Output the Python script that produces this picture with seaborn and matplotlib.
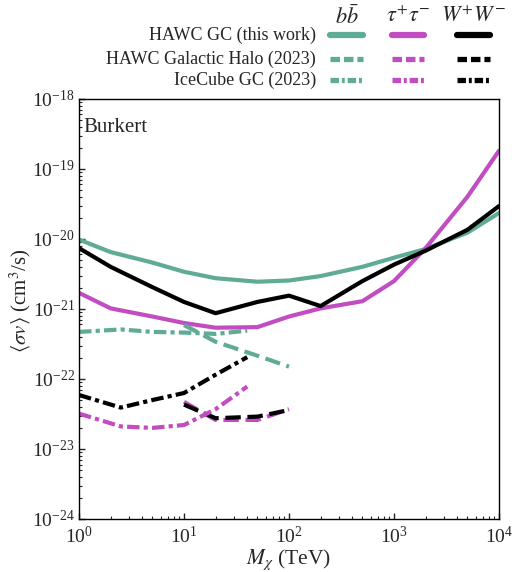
import numpy as np
import pandas as pd
import matplotlib.pyplot as plt
import seaborn as sns
from matplotlib.lines import Line2D

# HAWC GC (this work), Burkert profile
mass = [1, 2, 5, 10, 20, 50, 100, 200, 500, 1000, 2000, 5000, 10000]
bb_gc = [9.8e-21, 6.5e-21, 4.6e-21, 3.4e-21, 2.75e-21, 2.45e-21, 2.55e-21,
         2.95e-21, 4.0e-21, 5.4e-21, 7.2e-21, 1.23e-20, 2.35e-20]
tt_gc = [1.7e-21, 1.02e-21, 7.8e-22, 6.3e-22, 5.4e-22, 5.5e-22, 7.8e-22,
         1.02e-21, 1.29e-21, 2.5e-21, 7.4e-21, 4.0e-20, 1.82e-19]
ww_gc = [7.4e-21, 4.0e-21, 2.05e-21, 1.26e-21, 8.7e-22, 1.26e-21, 1.55e-21,
         1.1e-21, 2.5e-21, 4.3e-21, 6.8e-21, 1.35e-20, 2.95e-20]

# HAWC Galactic Halo (2023)
mass_halo = [10, 20, 50, 100]
bb_halo = [5.9e-22, 3.4e-22, 2.15e-22, 1.5e-22]
tt_halo = [4.7e-23, 2.6e-23, 2.6e-23, 3.7e-23]
ww_halo = [4.3e-23, 2.75e-23, 2.9e-23, 3.6e-23]

# IceCube GC (2023)
mass_ic = [1, 2.5, 5, 10, 20, 40]
bb_ic = [4.7e-22, 5.1e-22, 4.7e-22, 4.6e-22, 4.4e-22, 4.9e-22]
tt_ic = [3.2e-23, 2.1e-23, 2.0e-23, 2.2e-23, 3.7e-23, 7.8e-23]
ww_ic = [5.9e-23, 3.9e-23, 5.0e-23, 6.3e-23, 1.15e-22, 2.05e-22]

channels = [r'$b\bar{b}$', r'$\tau^{+}\tau^{-}$', r'$W^{+}W^{-}$']
rows = ['HAWC GC (this work)', 'HAWC Galactic Halo (2023)', 'IceCube GC (2023)']
colors = ['#5fab96', '#c24cc1', '#000000']
dashdot = (0, (3, 1, 1, 1))
styles = ['-', '--', dashdot]
# shorter patterns for the small legend handles
legend_styles = ['-', (0, (1.8, 0.75)), (0, (1.6, 0.55, 0.55, 0.55))]

sns.set_theme(style='ticks')
plt.rcParams['font.family'] = ['Liberation Serif', 'DejaVu Serif']
plt.rcParams['mathtext.fontset'] = 'stix'

fig = plt.figure(figsize=(5.12, 5.72), dpi=100)
ax = fig.add_axes([0.1543, 0.0927, 0.8203, 0.7343])
ax.set_xscale('log')
ax.set_yscale('log')

series = [
    (mass, [bb_gc, tt_gc, ww_gc], '-'),
    (mass_halo, [bb_halo, tt_halo, ww_halo], '--'),
    (mass_ic, [bb_ic, tt_ic, ww_ic], dashdot),
]
for xs, ys_list, ls in series:
    for ys, c in zip(ys_list, colors):
        df = pd.DataFrame({'m': xs, 'sv': ys})
        sns.lineplot(data=df, x='m', y='sv', ax=ax, color=c, lw=3,
                     linestyle=ls, estimator=None, sort=False)

ax.set_xlim(1, 1e4)
ax.set_ylim(1e-24, 1e-18)
ax.set_xlabel(r'$M_\chi$ (TeV)', fontsize=15.5, labelpad=0)
ax.set_ylabel(r'$\langle\sigma v\rangle$ (cm$^3$/s)', fontsize=15)
ax.yaxis.set_label_coords(-0.11, 0.52)
ax.tick_params(which='both', direction='in', labelsize=14, top=False, right=False)
ax.tick_params(axis='x', pad=5)
ax.tick_params(axis='y', pad=3)
ax.tick_params(which='major', length=4, width=1)
ax.tick_params(which='minor', length=2, width=0.8)
for s in ax.spines.values():
    s.set_color('black')
    s.set_linewidth(1)
ax.text(0.01, 0.955, 'Burkert', transform=ax.transAxes, fontsize=15,
        va='top', ha='left')

# table-style legend above the axes
W, H = 512, 572
col_x = [(330, 363), (392, 424), (457, 490)]
row_y = [35, 59, 80]
for (x0, x1), lab in zip(col_x, channels):
    fig.text((x0 + x1) / 2 / W, 1 - 17 / H, lab, fontsize=16,
             ha='center', va='center')
for ry, lab, ls in zip(row_y, rows, legend_styles):
    fig.text(316 / W, 1 - ry / H, lab, fontsize=13, ha='right', va='center')
    for (x0, x1), c in zip(col_x, colors):
        fig.add_artist(Line2D([x0 / W, x1 / W], [1 - ry / H, 1 - ry / H],
                              color=c, lw=4.5 if ls == '-' else 3.8,
                              linestyle=ls, transform=fig.transFigure))

fig.savefig('out.png', dpi=100)
